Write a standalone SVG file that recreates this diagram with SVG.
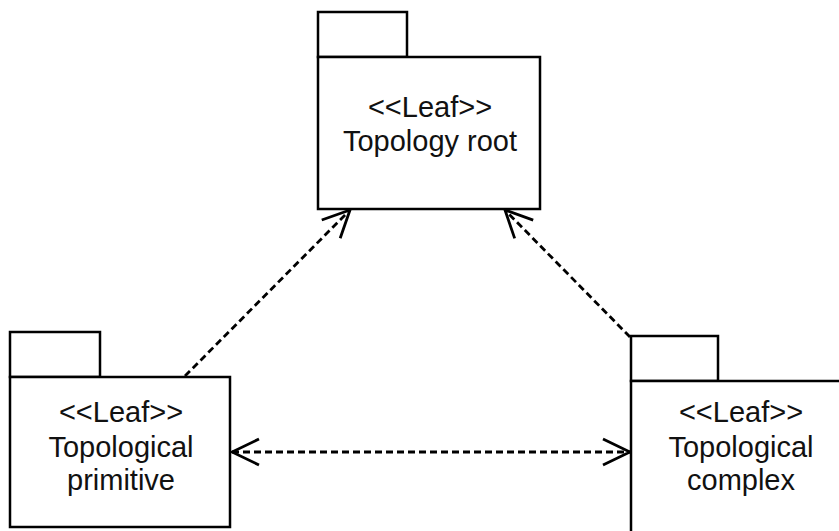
<svg xmlns="http://www.w3.org/2000/svg" width="839" height="531" viewBox="0 0 839 531">
  <style>
    .box { fill: #ffffff; stroke: #000000; stroke-width: 2.5; }
    .lbl { font-family: "Liberation Sans", Arial, sans-serif; font-size: 29px; fill: #111111; text-anchor: middle; }
    .dep { fill: none; stroke: #000000; stroke-width: 2.8; stroke-dasharray: 7 4; }
  </style>
  <defs>
    <marker id="open" viewBox="-30 -16 32 32" refX="0" refY="0" markerWidth="32" markerHeight="32" markerUnits="userSpaceOnUse" orient="auto-start-reverse">
      <path d="M-27,-13 L0,0 L-27,13" fill="none" stroke="#000000" stroke-width="2.8"/>
    </marker>
  </defs>
  <rect width="839" height="531" fill="#ffffff"/>

  <g id="topology-root">
    <rect class="box" x="318" y="12" width="89" height="45"/>
    <rect class="box" x="318" y="57" width="222" height="152"/>
    <text class="lbl" x="430" y="117">&lt;&lt;Leaf&gt;&gt;</text>
    <text class="lbl" x="430" y="151">Topology root</text>
  </g>

  <g id="topological-primitive">
    <rect class="box" x="10" y="332" width="90" height="45"/>
    <rect class="box" x="10" y="377" width="220" height="150"/>
    <text class="lbl" x="121" y="422">&lt;&lt;Leaf&gt;&gt;</text>
    <text class="lbl" x="121" y="457">Topological</text>
    <text class="lbl" x="121" y="490">primitive</text>
  </g>

  <g id="topological-complex">
    <rect class="box" x="631" y="336" width="87" height="45"/>
    <rect class="box" x="631" y="381" width="220" height="160"/>
    <text class="lbl" x="741" y="422">&lt;&lt;Leaf&gt;&gt;</text>
    <text class="lbl" x="741" y="457">Topological</text>
    <text class="lbl" x="741" y="490">complex</text>
  </g>

  <g id="connectors">
    <line class="dep" x1="185" y1="376" x2="350" y2="210" marker-end="url(#open)"/>
    <line class="dep" x1="630" y1="337" x2="505" y2="210" marker-end="url(#open)"/>
    <line class="dep" x1="232" y1="452" x2="630" y2="452" marker-start="url(#open)" marker-end="url(#open)"/>
  </g>
</svg>
